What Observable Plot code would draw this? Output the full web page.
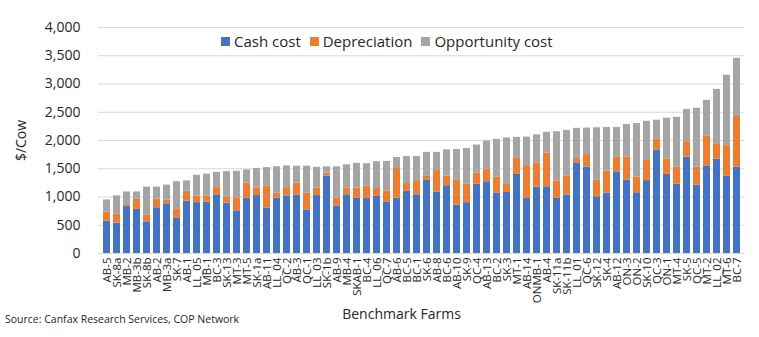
<!DOCTYPE html>
<html>
<head>
<meta charset="utf-8">
<script src="https://cdn.jsdelivr.net/npm/d3@7"></script>
<script src="https://cdn.jsdelivr.net/npm/@observablehq/plot@0.6"></script>
<style>
  html, body { margin: 0; padding: 0; background: #fff; }
  #wrap { position: relative; width: 759px; height: 337px; font-family: "Open Sans", "Noto Sans", sans-serif; }
  #legend { position: absolute; top: 31px; left: 221px; display: flex; gap: 9px; font-size: 15px; color: #262626; }
  #legend span.sw { display: inline-block; width: 9px; height: 9px; margin-right: 4px; vertical-align: 1px; }
  #source { position: absolute; left: 5px; top: 312px; font-size: 10.5px; color: #262626; }
</style>
</head>
<body>
<div id="wrap">
  <div id="chart"></div>
  <div id="legend"></div>
  <div id="source">Source: Canfax Research Services, COP Network</div>
</div>
<script>
const farms = ["AB-5","SK-8a","MB-2","MB-3b","SK-8b","AB-2","MB-3a","SK-7","AB-1","LL_05","MB-1","BC-3","SK-13","MT-3","MT-5","SK-1a","AB-11","LL_04","QC-2","AB-3","QC-1","LL_03","SK-1b","AB-9","MB-4","SKAB-1","BC-4","LL_06","QC-7","AB-6","BC-5","BC-1","SK-6","AB-8","BC-6","AB-10","SK-9","QC-4","AB-13","BC-2","SK-3","MT-1","AB-14","ONMB-1","AB-4","SK-11a","SK-11b","LL_01","QC-6","SK-12","SK-4","AB-12","ON-3","ON-2","SK-10","QC-3","ON-1","MT-4","SK-5","QC-5","MT-2","LL_02","MT-6","BC-7"];
const cashCost = [570,535,830,780,560,810,880,630,925,900,910,1040,890,755,980,1025,805,980,1020,1030,770,1025,1370,840,1040,975,975,1010,905,980,1100,1040,1295,1090,1200,855,900,1225,1270,1065,1080,1400,975,1175,1180,975,1035,1605,1530,1005,1070,1445,1300,1075,1290,1830,1400,1225,1705,1210,1550,1670,1365,1530];
const depreciation = [162,160,20,180,125,150,65,150,175,120,110,130,105,230,265,130,385,85,145,215,295,135,55,140,120,185,215,140,200,525,140,250,70,380,170,440,325,195,220,290,140,295,580,430,600,310,340,75,220,290,390,265,410,280,355,190,275,300,275,320,525,260,545,895];
const opportunityCost = [216,325,240,130,490,215,265,490,185,365,385,265,455,470,235,350,330,470,385,300,480,365,110,555,410,435,400,475,525,195,475,425,425,320,465,545,635,500,500,665,825,360,505,495,365,870,805,535,470,930,770,520,575,945,695,340,720,885,570,1040,635,975,1245,1030];
const seriesNames = ["Cash cost","Depreciation","Opportunity cost"];
const seriesColors = ["#4472C4","#ED7D31","#A5A5A5"];
const yTicks = [0,500,1000,1500,2000,2500,3000,3500,4000];

const data = [];
farms.forEach((f, i) => {
  data.push({farm: f, series: seriesNames[0], value: cashCost[i]});
  data.push({farm: f, series: seriesNames[1], value: depreciation[i]});
  data.push({farm: f, series: seriesNames[2], value: opportunityCost[i]});
});

const chart = Plot.plot({
  width: 759,
  height: 337,
  marginLeft: 98,
  marginRight: 15,
  marginTop: 27,
  marginBottom: 84,
  style: {fontFamily: "'Open Sans', 'Noto Sans', sans-serif", color: "#262626", background: "#fff"},
  x: {domain: farms, paddingInner: 0.3, paddingOuter: 0.15, label: null},
  y: {domain: [0, 4000], label: null},
  color: {domain: seriesNames, range: seriesColors},
  marks: [
    Plot.ruleY(yTicks, {stroke: "#d9d9d9", strokeWidth: 1}),
    Plot.barY(data, Plot.stackY({order: seriesNames}, {x: "farm", y: "value", fill: "series", z: "series"})),
    Plot.axisY({ticks: yTicks, tickFormat: d3.format(","), tickSize: 0, tickPadding: 18, fontSize: 14, label: "$/Cow", labelAnchor: "center", labelArrow: "none", labelOffset: 82}),
    Plot.axisX({tickSize: 0, tickPadding: 4, tickRotate: -90, fontSize: 11.5, label: null}),
    Plot.text(["Benchmark Farms"], {frameAnchor: "bottom", dx: -20, dy: 65, fontSize: 14, fill: "#262626"})
  ]
});
document.getElementById("chart").appendChild(chart);

chart.querySelectorAll("g[aria-label='y-axis label'] text").forEach(t => t.setAttribute("font-size", 14));

const legend = document.getElementById("legend");
seriesNames.forEach((s, i) => {
  const item = document.createElement("div");
  item.innerHTML = `<span class="sw" style="background:${seriesColors[i]}"></span>${s}`;
  legend.appendChild(item);
});
</script>
</body>
</html>
